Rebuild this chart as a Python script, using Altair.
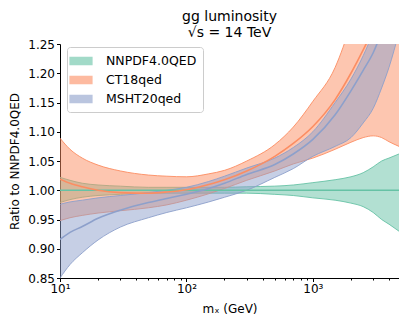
import altair as alt
import pandas as pd

# ---- data ----
mx = [10, 12, 15, 20, 30, 50, 70, 100, 150, 200, 300, 500, 700, 1000, 1500, 2000, 2500, 3000, 3500, 4000, 4800]

nn_lo = [0.979, 0.984, 0.988, 0.991, 0.993, 0.995, 0.995, 0.995, 0.995, 0.995, 0.995, 0.993, 0.991, 0.987, 0.983, 0.978, 0.972, 0.962, 0.950, 0.942, 0.930]
nn_mid = [1.0] * len(mx)
nn_hi = [1.022, 1.017, 1.012, 1.009, 1.007, 1.005, 1.005, 1.005, 1.005, 1.005, 1.006, 1.007, 1.009, 1.013, 1.018, 1.023, 1.030, 1.040, 1.050, 1.055, 1.062]

ct_lo = [0.948, 0.953, 0.957, 0.961, 0.965, 0.970, 0.975, 0.983, 0.994, 1.003, 1.017, 1.033, 1.045, 1.055, 1.070, 1.082, 1.090, 1.093, 1.090, 1.083, 1.075]
ct_mid = [1.019, 1.012, 1.006, 1.000, 0.996, 0.995, 0.997, 1.001, 1.010, 1.018, 1.033, 1.058, 1.080, 1.109, 1.155, 1.200, 1.240, 1.275, 1.310, 1.350, 1.400]
ct_hi = [1.089, 1.070, 1.055, 1.043, 1.033, 1.026, 1.024, 1.023, 1.028, 1.034, 1.050, 1.078, 1.108, 1.152, 1.210, 1.285, 1.360, 1.430, 1.500, 1.570, 1.650]

ms_lo = [0.850, 0.873, 0.893, 0.915, 0.937, 0.953, 0.962, 0.970, 0.980, 0.988, 1.000, 1.022, 1.037, 1.058, 1.075, 1.090, 1.115, 1.140, 1.175, 1.210, 1.270]
ms_mid = [0.916, 0.928, 0.938, 0.952, 0.966, 0.979, 0.986, 0.993, 1.003, 1.012, 1.027, 1.044, 1.062, 1.087, 1.129, 1.170, 1.205, 1.235, 1.270, 1.300, 1.350]
ms_hi = [0.976, 0.980, 0.983, 0.987, 0.991, 0.996, 1.000, 1.005, 1.015, 1.024, 1.038, 1.055, 1.073, 1.100, 1.150, 1.190, 1.230, 1.270, 1.310, 1.350, 1.400]

series_names = ["NNPDF4.0QED", "CT18qed", "MSHT20qed"]
series_colors = ["#66c2a5", "#fc8d62", "#8da0cb"]

y_ticks = [0.85, 0.90, 0.95, 1.00, 1.05, 1.10, 1.15, 1.20, 1.25]
x_ticks = [10, 20, 30, 40, 50, 60, 70, 80, 90,
           100, 200, 300, 400, 500, 600, 700, 800, 900,
           1000, 2000, 3000, 4000]
x_major = [10, 100, 1000]
x_major_labels = ["10¹", "10²", "10³"]

rows = []
for name, lo, mid, hi in [
    ("NNPDF4.0QED", nn_lo, nn_mid, nn_hi),
    ("CT18qed", ct_lo, ct_mid, ct_hi),
    ("MSHT20qed", ms_lo, ms_mid, ms_hi),
]:
    for x, a, m, b in zip(mx, lo, mid, hi):
        rows.append({"mx": x, "series": name, "lo": a, "mid": m, "hi": b})
df = pd.DataFrame(rows)

FONT = "DejaVu Sans"

label_expr = " : ".join(
    f"datum.value == {v} ? '{l}'" for v, l in zip(x_major, x_major_labels)
) + " : ''"
major_test = " || ".join(f"datum.value == {v}" for v in x_major)

xscale = alt.Scale(type="log", domain=[10, 4800], nice=False)
yscale = alt.Scale(domain=[0.85, 1.25], nice=False, zero=False)
cscale = alt.Scale(domain=series_names, range=series_colors)

x_axis = alt.Axis(
    values=x_ticks, labelExpr=label_expr, labelOverlap=False, labelFlush=False,
    tickSize={"condition": {"test": major_test, "value": 3.5}, "value": 2},
    title="mₓ (GeV)", grid=False,
)
y_axis = alt.Axis(values=y_ticks, format=".2f", title="Ratio to NNPDF4.0QED", grid=False,
                  tickSize=3.5, labelFlush=False)

legend = alt.Legend(
    title=None, orient="none", legendX=7, legendY=3,
    symbolType="M-1.5,-0.5L1.5,-0.5L1.5,0.5L-1.5,0.5Z", symbolSize=215,
    symbolStrokeWidth=1.2, symbolOpacity=0.6,
    labelFont=FONT, labelFontSize=12.5, labelOffset=17, labelColor="black",
    padding=6, rowPadding=4,
    strokeColor="#cccccc", fillColor="white", cornerRadius=3,
)

base = alt.Chart(df)

X = alt.X("mx:Q", scale=xscale, axis=x_axis)
fill_enc = alt.Fill("series:N", scale=cscale, legend=legend)
stroke_enc = alt.Stroke("series:N", scale=cscale, legend=legend)

layers = []
for name in series_names:
    sub = base.transform_filter(alt.datum.series == name)
    area = sub.mark_area(clip=True, fillOpacity=0.5, strokeOpacity=0, interpolate="monotone").encode(
        x=X,
        y=alt.Y("lo:Q", scale=yscale, axis=y_axis),
        y2="hi:Q",
        fill=fill_enc,
        stroke=stroke_enc,
    )
    lo_line = sub.mark_line(clip=True, strokeWidth=1, opacity=0.9, interpolate="monotone").encode(
        x=X,
        y=alt.Y("lo:Q", scale=yscale, axis=y_axis),
        stroke=stroke_enc,
    )
    hi_line = sub.mark_line(clip=True, strokeWidth=1, opacity=0.9, interpolate="monotone").encode(
        x=X,
        y=alt.Y("hi:Q", scale=yscale, axis=y_axis),
        stroke=stroke_enc,
    )
    layers += [area, lo_line, hi_line]

for name in series_names:
    sub = base.transform_filter(alt.datum.series == name)
    mid_line = sub.mark_line(clip=True, strokeWidth=1.6, interpolate="monotone").encode(
        x=X,
        y=alt.Y("mid:Q", scale=yscale, axis=y_axis),
        stroke=stroke_enc,
    )
    layers.append(mid_line)

chart = alt.layer(*layers).properties(
    width=339, height=234,
    autosize=alt.AutoSizeParams(type="none"),
    padding={"left": 52, "top": 36, "right": 0, "bottom": 38},
    title=alt.Title(
        ["gg luminosity", "√s = 14 TeV"], font=FONT, fontSize=14, fontWeight="normal",
        anchor="middle", color="black", lineHeight=16, offset=-2,
    ),
).configure_view(stroke=None).configure_axis(
    labelFont=FONT, titleFont=FONT, labelFontSize=12, titleFontSize=12,
    labelColor="black", titleColor="black", titleFontWeight="normal",
    domainColor="black", tickColor="black", domainWidth=1, tickWidth=1,
    labelPadding=2,
).configure_axisY(titlePadding=6).configure_axisX(titlePadding=9)

chart.save("out.html", embed_options={"renderer": "svg", "actions": False})
